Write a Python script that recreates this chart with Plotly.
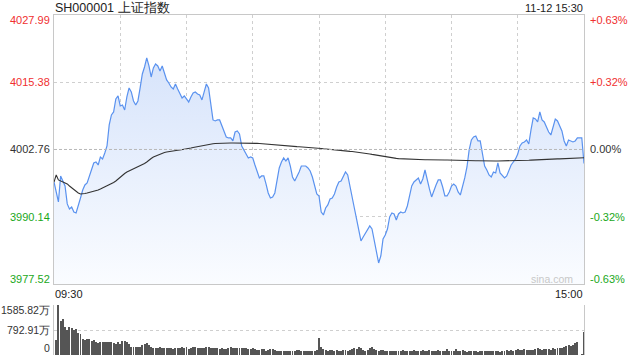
import plotly.graph_objects as go

# ---------------- data ----------------
title_text = "SH000001 上证指数"
stamp_text = "11-12 15:30"
prev_close = 4002.76
price_ticks = [4027.99, 4015.38, 4002.76, 3990.14, 3977.52]
pct_labels = ["+0.63%", "+0.32%", "0.00%", "-0.32%", "-0.63%"]
vol_ticks = [1585.82, 792.91, 0]
vol_labels = ["1585.82万", "792.91万", "0"]
time_labels = ["09:30", "15:00"]
minutes = list(range(241))

price = [
    3996.66, 3994.79, 3992.91, 3997.79, 3996.85, 3995.91, 3992.54, 3991.60, 3991.97, 3991.03,
    3990.85, 3992.54, 3993.66, 3995.16, 3996.10, 3996.47, 3997.79, 3999.29, 4000.23, 4000.41,
    3999.85, 4001.35, 4000.98, 4002.10, 4003.42, 4007.36, 4009.23, 4009.80, 4012.24, 4012.80,
    4010.92, 4011.11, 4010.17, 4012.61, 4014.30, 4013.55, 4011.86, 4011.11, 4011.86, 4014.30,
    4016.93, 4018.24, 4019.93, 4018.43, 4016.36, 4018.05, 4018.80, 4018.43, 4017.49, 4018.43,
    4017.30, 4015.80, 4015.24, 4014.49, 4014.11, 4015.05, 4014.11, 4013.36, 4012.42, 4012.80,
    4012.24, 4011.67, 4012.61, 4013.36, 4013.55, 4013.17, 4012.99, 4012.05, 4013.55, 4015.05,
    4014.30, 4010.92, 4008.30, 4008.11, 4008.30, 4008.30, 4007.17, 4005.86, 4005.11, 4004.92,
    4004.92, 4004.36, 4006.04, 4006.23, 4005.67, 4003.42, 4002.67, 4001.92, 4001.17, 4001.35,
    4001.17, 3999.85, 3998.54, 3997.41, 3997.79, 3997.79, 3996.29, 3994.60, 3993.66, 3993.85,
    3994.60, 3996.85, 3999.29, 4000.41, 4001.17, 4000.60, 4001.17, 3999.66, 3997.60, 3996.85,
    3997.60, 3998.54, 3999.66, 3999.66, 3999.66, 3999.29, 3998.73, 3997.60, 3996.10, 3994.41,
    3994.04, 3991.03, 3990.47, 3991.78, 3992.35, 3993.47, 3993.66, 3994.41, 3995.72, 3996.66,
    3996.85, 3997.60, 3998.54, 3997.98, 3996.10, 3994.04, 3991.78, 3989.72, 3987.66, 3985.59,
    3986.34, 3987.09, 3987.66, 3988.41, 3987.84, 3985.78, 3983.15, 3981.47, 3982.78, 3985.97,
    3986.72, 3987.84, 3990.10, 3990.85, 3990.66, 3989.53, 3990.66, 3991.03, 3990.85, 3991.03,
    3992.16, 3994.22, 3995.91, 3996.66, 3997.04, 3997.41, 3996.29, 3997.23, 3998.91, 3996.85,
    3995.35, 3993.85, 3995.16, 3996.10, 3997.04, 3997.04, 3995.72, 3994.04, 3994.04, 3994.79,
    3995.91, 3996.29, 3995.91, 3994.79, 3994.22, 3995.72, 3997.41, 3999.48, 4002.67, 4004.54,
    4005.11, 4005.29, 4004.36, 4004.36, 4001.92, 3999.66, 3998.91, 3997.98, 3997.60, 3998.54,
    3998.35, 4000.23, 3998.35, 3997.79, 3997.41, 3997.79, 3998.91, 3999.85, 4000.41, 4000.98,
    4001.92, 4003.42, 4003.98, 4004.17, 4004.54, 4003.79, 4006.42, 4008.67, 4008.48, 4007.92,
    4009.80, 4008.30, 4007.92, 4006.79, 4006.04, 4005.48, 4006.79, 4008.48, 4008.11, 4006.98,
    4006.23, 4004.36, 4003.42, 4004.54, 4004.36, 4004.17, 4004.36, 4004.92, 4004.92, 4004.92,
    4000.14,
]

avg_price = [
    3996.66, 3997.98, 3997.04, 3996.85, 3996.66, 3996.47, 3996.29, 3995.91, 3995.54, 3995.16,
    3994.79, 3994.60, 3994.41, 3994.41, 3994.50, 3994.60, 3994.69, 3994.79, 3994.97, 3995.07,
    3995.16, 3995.35, 3995.54, 3995.72, 3995.91, 3996.10, 3996.29, 3996.57, 3996.85, 3997.23,
    3997.69, 3997.98, 3998.26, 3998.54, 3998.73, 3998.91, 3999.10, 3999.29, 3999.48, 3999.66,
    3999.85, 4000.13, 4000.41, 4000.79, 4001.07, 4001.35, 4001.54, 4001.73, 4001.92, 4002.10,
    4002.20, 4002.29, 4002.38, 4002.48, 4002.52, 4002.57, 4002.61, 4002.67, 4002.72, 4002.76,
    4002.85, 4002.95, 4003.04, 4003.14, 4003.23, 4003.32, 4003.42, 4003.51, 4003.60, 4003.70,
    4003.75, 4003.79, 4003.83, 4003.89, 4003.92, 4003.94, 4003.98, 4003.98, 4003.98, 4003.98,
    4003.98, 4003.98, 4003.98, 4003.98, 4003.98, 4004.02, 4004.02, 4004.02, 4004.02, 4004.02,
    4004.02, 4003.94, 4003.90, 4003.87, 4003.83, 4003.79, 4003.74, 4003.68, 4003.64, 4003.60,
    4003.55, 4003.51, 4003.47, 4003.44, 4003.42, 4003.38, 4003.36, 4003.34, 4003.32, 4003.30,
    4003.29, 4003.27, 4003.25, 4003.23, 4003.21, 4003.19, 4003.15, 4003.12, 4003.08, 4003.04,
    4003.00, 4002.95, 4002.89, 4002.84, 4002.78, 4002.74, 4002.70, 4002.67, 4002.63, 4002.59,
    4002.55, 4002.52, 4002.48, 4002.44, 4002.40, 4002.37, 4002.33, 4002.29, 4002.23, 4002.18,
    4002.12, 4002.07, 4001.99, 4001.92, 4001.84, 4001.77, 4001.67, 4001.58, 4001.48, 4001.39,
    4001.32, 4001.26, 4001.20, 4001.17, 4001.13, 4001.09, 4001.05, 4001.02, 4001.00, 4000.98,
    4000.96, 4000.94, 4000.92, 4000.90, 4000.88, 4000.87, 4000.85, 4000.85, 4000.83, 4000.83,
    4000.81, 4000.79, 4000.79, 4000.79, 4000.79, 4000.79, 4000.79, 4000.79, 4000.79, 4000.79,
    4000.79, 4000.77, 4000.76, 4000.74, 4000.73, 4000.71, 4000.70, 4000.69, 4000.68, 4000.67,
    4000.66, 4000.65, 4000.64, 4000.62, 4000.61, 4000.60, 4000.60, 4000.60, 4000.60, 4000.60,
    4000.60, 4000.61, 4000.61, 4000.62, 4000.63, 4000.64, 4000.65, 4000.66, 4000.66, 4000.67,
    4000.68, 4000.69, 4000.71, 4000.72, 4000.74, 4000.75, 4000.77, 4000.80, 4000.82, 4000.85,
    4000.87, 4000.88, 4000.90, 4000.91, 4000.93, 4000.94, 4000.96, 4000.97, 4000.99, 4001.00,
    4001.02, 4001.04, 4001.06, 4001.08, 4001.09, 4001.11, 4001.13, 4001.15, 4001.17, 4001.18,
    4001.20,
]

volume = [
    0, 476, 1586, 1078, 1142, 877, 793, 877, 846, 793,
    814, 687, 655, 507, 476, 507, 507, 444, 465, 402,
    380, 402, 423, 423, 402, 402, 402, 370, 349, 423,
    349, 444, 434, 402, 338, 243, 243, 243, 243, 264,
    317, 338, 370, 317, 264, 211, 233, 233, 264, 211,
    211, 233, 233, 211, 190, 211, 233, 211, 243, 211,
    264, 190, 233, 243, 264, 211, 233, 211, 233, 264,
    264, 233, 233, 233, 211, 180, 211, 190, 180, 233,
    243, 211, 211, 233, 233, 211, 211, 211, 180, 190,
    211, 190, 159, 159, 180, 180, 137, 159, 180, 190,
    159, 137, 137, 127, 127, 137, 137, 127, 127, 137,
    159, 159, 137, 137, 127, 127, 137, 127, 137, 159,
    529, 264, 180, 159, 137, 159, 148, 137, 159, 137,
    137, 159, 148, 137, 159, 190, 211, 180, 254, 211,
    159, 137, 159, 233, 264, 180, 159, 137, 159, 159,
    137, 137, 127, 127, 116, 137, 137, 127, 148, 116,
    127, 137, 127, 148, 127, 116, 137, 159, 127, 116,
    148, 137, 127, 116, 159, 137, 127, 116, 180, 127,
    127, 116, 190, 127, 137, 148, 116, 106, 127, 137,
    127, 116, 106, 127, 127, 116, 137, 116, 127, 137,
    137, 116, 106, 127, 137, 159, 127, 159, 137, 159,
    190, 148, 159, 180, 148, 148, 148, 159, 180, 211,
    190, 159, 180, 190, 180, 159, 211, 180, 211, 211,
    233, 264, 300, 317, 290, 330, 370, 423, 0, 8,
    735,
]

# ---------------- styling ----------------
FONT = "Liberation Sans, Arial, sans-serif"
RED = "#f03030"
GREEN = "#1aa81a"
DARK = "#333333"
GRID = "#cfcfcf"
BORDER = "#c8c8c8"
LINE_BLUE = "#5a92ef"

ymin, ymax = price_ticks[-1], price_ticks[0]
vmax = vol_ticks[0]

fig = go.Figure()

fig.add_trace(go.Scatter(
    x=minutes, y=price, mode="lines", fill="tozeroy",
    line=dict(color=LINE_BLUE, width=1.2),
    fillgradient=dict(type="vertical", start=ymin, stop=ymax,
                      colorscale=[[0, "rgb(250,252,255)"], [1, "rgb(208,223,250)"]]),
    hoverinfo="skip", xaxis="x", yaxis="y",
))
fig.add_trace(go.Scatter(
    x=minutes, y=avg_price, mode="lines",
    line=dict(color="#333333", width=1.1),
    hoverinfo="skip", xaxis="x", yaxis="y",
))
fig.add_trace(go.Bar(
    x=minutes, y=volume, width=0.45, marker=dict(color="#555555", line=dict(width=0)),
    hoverinfo="skip", xaxis="x2", yaxis="y2",
))

# prev close dashed line
fig.add_shape(type="line", xref="x", yref="y", x0=minutes[0], x1=minutes[-1],
              y0=prev_close, y1=prev_close,
              line=dict(color="#b8b8b8", width=1, dash="3px,2px"))

annotations = []
colors = [RED, RED, DARK, GREEN, GREEN]
shifts = [-5, 0, 0, 0, 5]
for v, pl, c, s in zip(price_ticks, pct_labels, colors, shifts):
    annotations.append(dict(xref="paper", yref="y", x=0, y=v, text=f"{v:.2f}",
                            xanchor="right", yanchor="middle", xshift=-2, yshift=s,
                            showarrow=False, font=dict(family=FONT, size=11, color=c)))
    annotations.append(dict(xref="paper", yref="y", x=1, y=v, text=pl,
                            xanchor="left", yanchor="middle", xshift=4, yshift=s,
                            showarrow=False, font=dict(family=FONT, size=11, color=c)))

vshifts = [-5, 0, 7]
for v, t, s in zip(vol_ticks, vol_labels, vshifts):
    annotations.append(dict(xref="paper", yref="y2", x=0, y=v, text=t,
                            xanchor="right", yanchor="middle", xshift=-2, yshift=s,
                            showarrow=False, font=dict(family=FONT, size=10.5, color=DARK)))

H_PLOT = 340.0
def py(px):
    return (355 - px) / H_PLOT

annotations += [
    dict(xref="paper", yref="paper", x=0, y=py(7.5), text=title_text, xanchor="left",
         yanchor="middle", xshift=-1, showarrow=False, font=dict(family=FONT, size=12.5, color="#222")),
    dict(xref="paper", yref="paper", x=1, y=py(7.5), text=stamp_text, xanchor="right",
         yanchor="middle", xshift=1, showarrow=False, font=dict(family=FONT, size=11, color="#222")),
    dict(xref="x", yref="paper", x=minutes[0], y=py(293.5), text=time_labels[0], xanchor="left",
         yanchor="middle", xshift=-1, showarrow=False, font=dict(family=FONT, size=11, color="#222")),
    dict(xref="x", yref="paper", x=minutes[-1], y=py(293.5), text=time_labels[1], xanchor="right",
         yanchor="middle", xshift=1, showarrow=False, font=dict(family=FONT, size=11, color="#222")),
    dict(xref="paper", yref="paper", x=1, y=py(279), text="sina.com", xanchor="right",
         yanchor="middle", xshift=-9, showarrow=False, font=dict(family=FONT, size=10.5, color="#c8c8c8")),
]

fig.update_layout(
    width=640, height=360,
    margin=dict(l=54, r=56, t=15, b=5),
    paper_bgcolor="white", plot_bgcolor="rgba(0,0,0,0)",
    showlegend=False, bargap=0,
    annotations=annotations,
    xaxis=dict(domain=[0, 1], range=[minutes[0], minutes[-1]], anchor="y",
               tickvals=[30, 60, 90, 120, 150, 180, 210], showticklabels=False,
               showgrid=True, gridcolor=GRID, griddash="dot", gridwidth=1,
               showline=True, linecolor=BORDER, linewidth=1, mirror=True,
               zeroline=False, ticks=""),
    yaxis=dict(domain=[py(284), 1], range=[ymin, ymax], anchor="x",
               tickvals=[price_ticks[1], price_ticks[3]], showticklabels=False,
               showgrid=True, gridcolor=GRID, griddash="dot", gridwidth=1,
               showline=True, linecolor=BORDER, linewidth=1, mirror=True,
               zeroline=False, ticks=""),
    xaxis2=dict(domain=[0, 1], range=[minutes[0], minutes[-1]], anchor="y2",
                showticklabels=False, showgrid=False, showline=False, zeroline=False, ticks=""),
    yaxis2=dict(domain=[0, py(305)], range=[0, vmax], anchor="x2",
                tickvals=[vol_ticks[1], vol_ticks[0]], showticklabels=False,
                showgrid=True, gridcolor=GRID, griddash="dot", gridwidth=1,
                showline=True, linecolor=BORDER, linewidth=1, mirror=True,
                zeroline=False, ticks=""),
)

fig.write_html("out.html")
